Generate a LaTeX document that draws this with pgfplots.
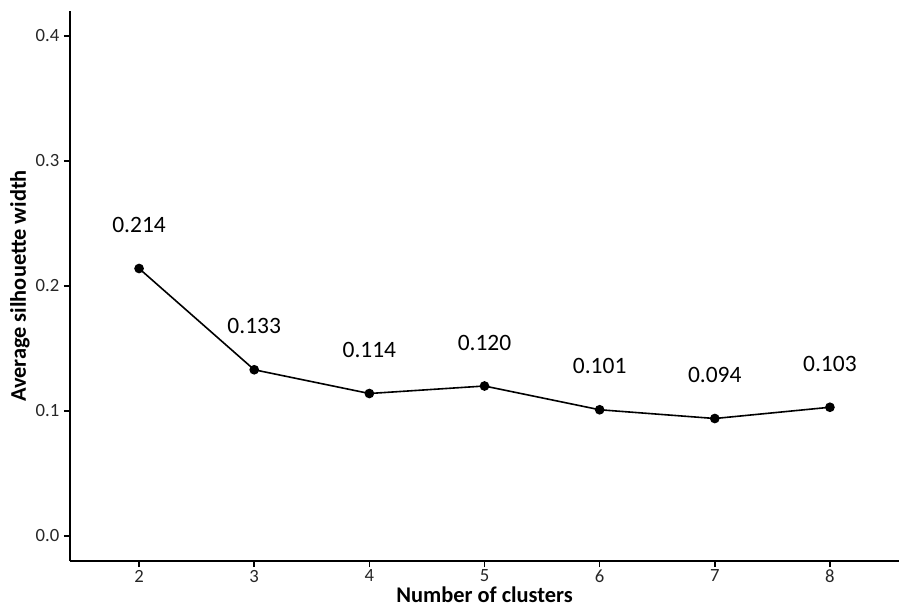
\documentclass[border=0pt]{standalone}
\usepackage{pgfplots}
\pgfplotsset{compat=1.18}
\usepackage{fontspec}
\setmainfont{Carlito}
\begin{document}
\begin{tikzpicture}
\begin{axis}[
  scale only axis,
  width=621.75pt, height=412.5pt,
  xmin=1.4, xmax=8.6, ymin=-0.02, ymax=0.42,
  axis x line*=bottom, axis y line*=left,
  axis line style={-, line width=1.5pt, black},
  xtick={2,3,4,5,6,7,8},
  ytick={0,0.1,0.2,0.3,0.4},
  yticklabel style={/pgf/number format/.cd, fixed, fixed zerofill, precision=1},
  /pgf/number format/assume math mode=true,
  tick style={line width=1.2pt, black},
  tick align=outside,
  major tick length=4.5pt,
  ticklabel style={font=\fontsize{14}{16}\selectfont, text=black!85},
  xlabel={\textbf{Number of clusters}},
  ylabel={\textbf{Average silhouette width}},
  label style={font=\fontsize{16.8}{19}\selectfont},
  xlabel style={at={(axis description cs:0.5,0)}, anchor=center, text depth=0pt, inner ysep=0pt, yshift=-25.3pt},
  ylabel style={at={(axis description cs:0,0.5)}, anchor=center, rotate=0, yshift=37.5pt},
  xticklabel style={yshift=-1pt, text depth=0pt, inner ysep=1pt},
  clip=false,
]
\addplot[black, line width=1.2pt, mark=*, mark size=3pt,
  nodes near coords,
  nodes near coords style={font=\fontsize{17.6}{20}\selectfont, anchor=center, yshift=32.6pt,
    /pgf/number format/.cd, fixed, fixed zerofill, precision=3, assume math mode=true},
] coordinates {
  (2,0.214) (3,0.133) (4,0.114) (5,0.120) (6,0.101) (7,0.094) (8,0.103)
};
\end{axis}
\pgfresetboundingbox
\path (current axis.south west) ++(-52.5pt,-35.25pt) coordinate (bl);
\path (current axis.north east) ++(1.5pt,8.25pt) coordinate (tr);
\useasboundingbox (bl) rectangle (tr);
\end{tikzpicture}
\end{document}
